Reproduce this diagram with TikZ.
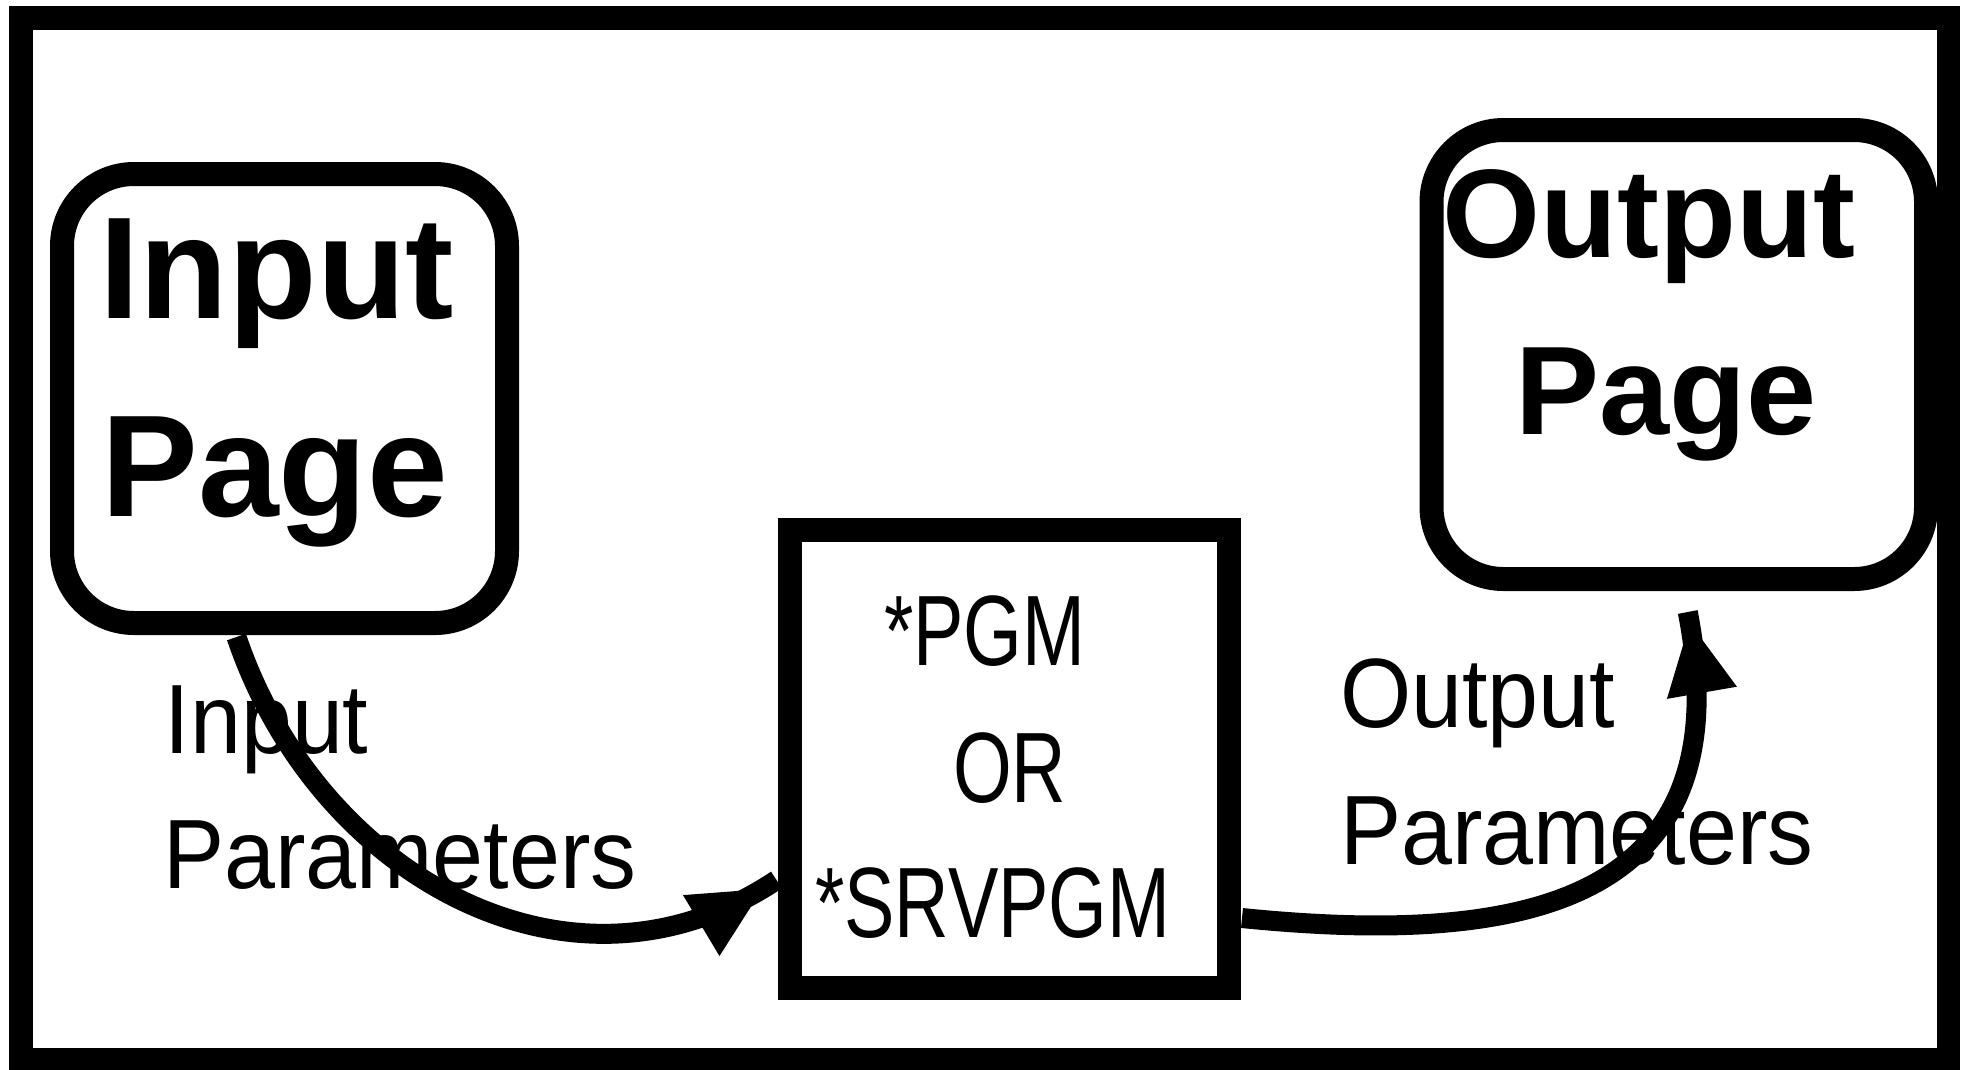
\documentclass[tikz,border=0pt]{standalone}
\usepackage{fontspec}
\setmainfont{Liberation Sans}
\newfontfamily\labfont{Liberation Sans}[FakeStretch=0.93]
\newfontfamily\midfont{Liberation Sans}[FakeStretch=0.755]
\usetikzlibrary{calc,decorations.markings}
\begin{document}
\begin{tikzpicture}[x=1pt,y=-1pt,
  frameline/.style={line width=23.5pt},
  pagebox/.style={draw,line width=24pt,rounded corners=72pt,inner sep=0pt},
  pgmbox/.style={draw,line width=24pt,inner sep=0pt},
  bigtext/.style={font=\bfseries\fontsize{145}{170}\selectfont,inner sep=0pt},
  outtext/.style={font=\bfseries\fontsize{126}{150}\selectfont,inner sep=0pt},
  paramtext/.style={font=\labfont\fontsize{98.5}{118}\selectfont,inner sep=0pt},
  pgmtext/.style={font=\midfont\fontsize{100}{120}\selectfont,inner sep=0pt},
  flow/.style={line width=20pt,postaction={decorate},
    decoration={markings,mark=at position #1 with {\fill (0,0) -- (-71,35.5) -- (-71,-35.5) -- cycle;}}}
]
\useasboundingbox (0,0) rectangle (1969,1069);
\draw[frameline] (21,18) rectangle (1948.5,1059.5);

\node[pagebox,minimum width=445pt,minimum height=449pt] (inp) at (284.5,398.5) {};
\node[pagebox,minimum width=494.5pt,minimum height=449pt] (out) at (1678.75,354.5) {};
\node[pgmbox,minimum width=439.5pt,minimum height=458pt] (mid) at (1009.25,759) {};

\node[bigtext,anchor=base west] (inpA) at (99.4,318) {Input};
\node[bigtext,anchor=base west] (inpB) at (101.4,516) {Page};
\node[outtext,anchor=base west] (outA) at (1442,257) {Output};
\node[outtext,anchor=base west] (outB) at (1515,434) {Page};

\node[pgmtext,anchor=base west] (pgmA) at (884,665) {*PGM};
\node[pgmtext,anchor=base west] (pgmB) at (953,802) {OR};
\node[pgmtext,anchor=base west] (pgmC) at (815,937) {*SRVPGM};

\node[paramtext,anchor=base west] (inlabA) at (164.5,753) {Input};
\node[paramtext,anchor=base west] (inlabB) at (163,888) {Parameters};
\node[paramtext,anchor=base west] (outlabA) at (1340,727) {Output};
\node[paramtext,anchor=base west] (outlabB) at (1340,864) {Parameters};

\draw[flow=-17pt] ($(inp.south)+(-48,2)$) .. controls +(80,237) and +(-207,138) .. ($(mid.west)+(-1,121)$);
\draw[flow=-11pt] ($(mid.east)+(1,159)$) .. controls +(278,28) and +(57,294) .. ($(out.south)+(9,21)$);
\end{tikzpicture}
\end{document}
